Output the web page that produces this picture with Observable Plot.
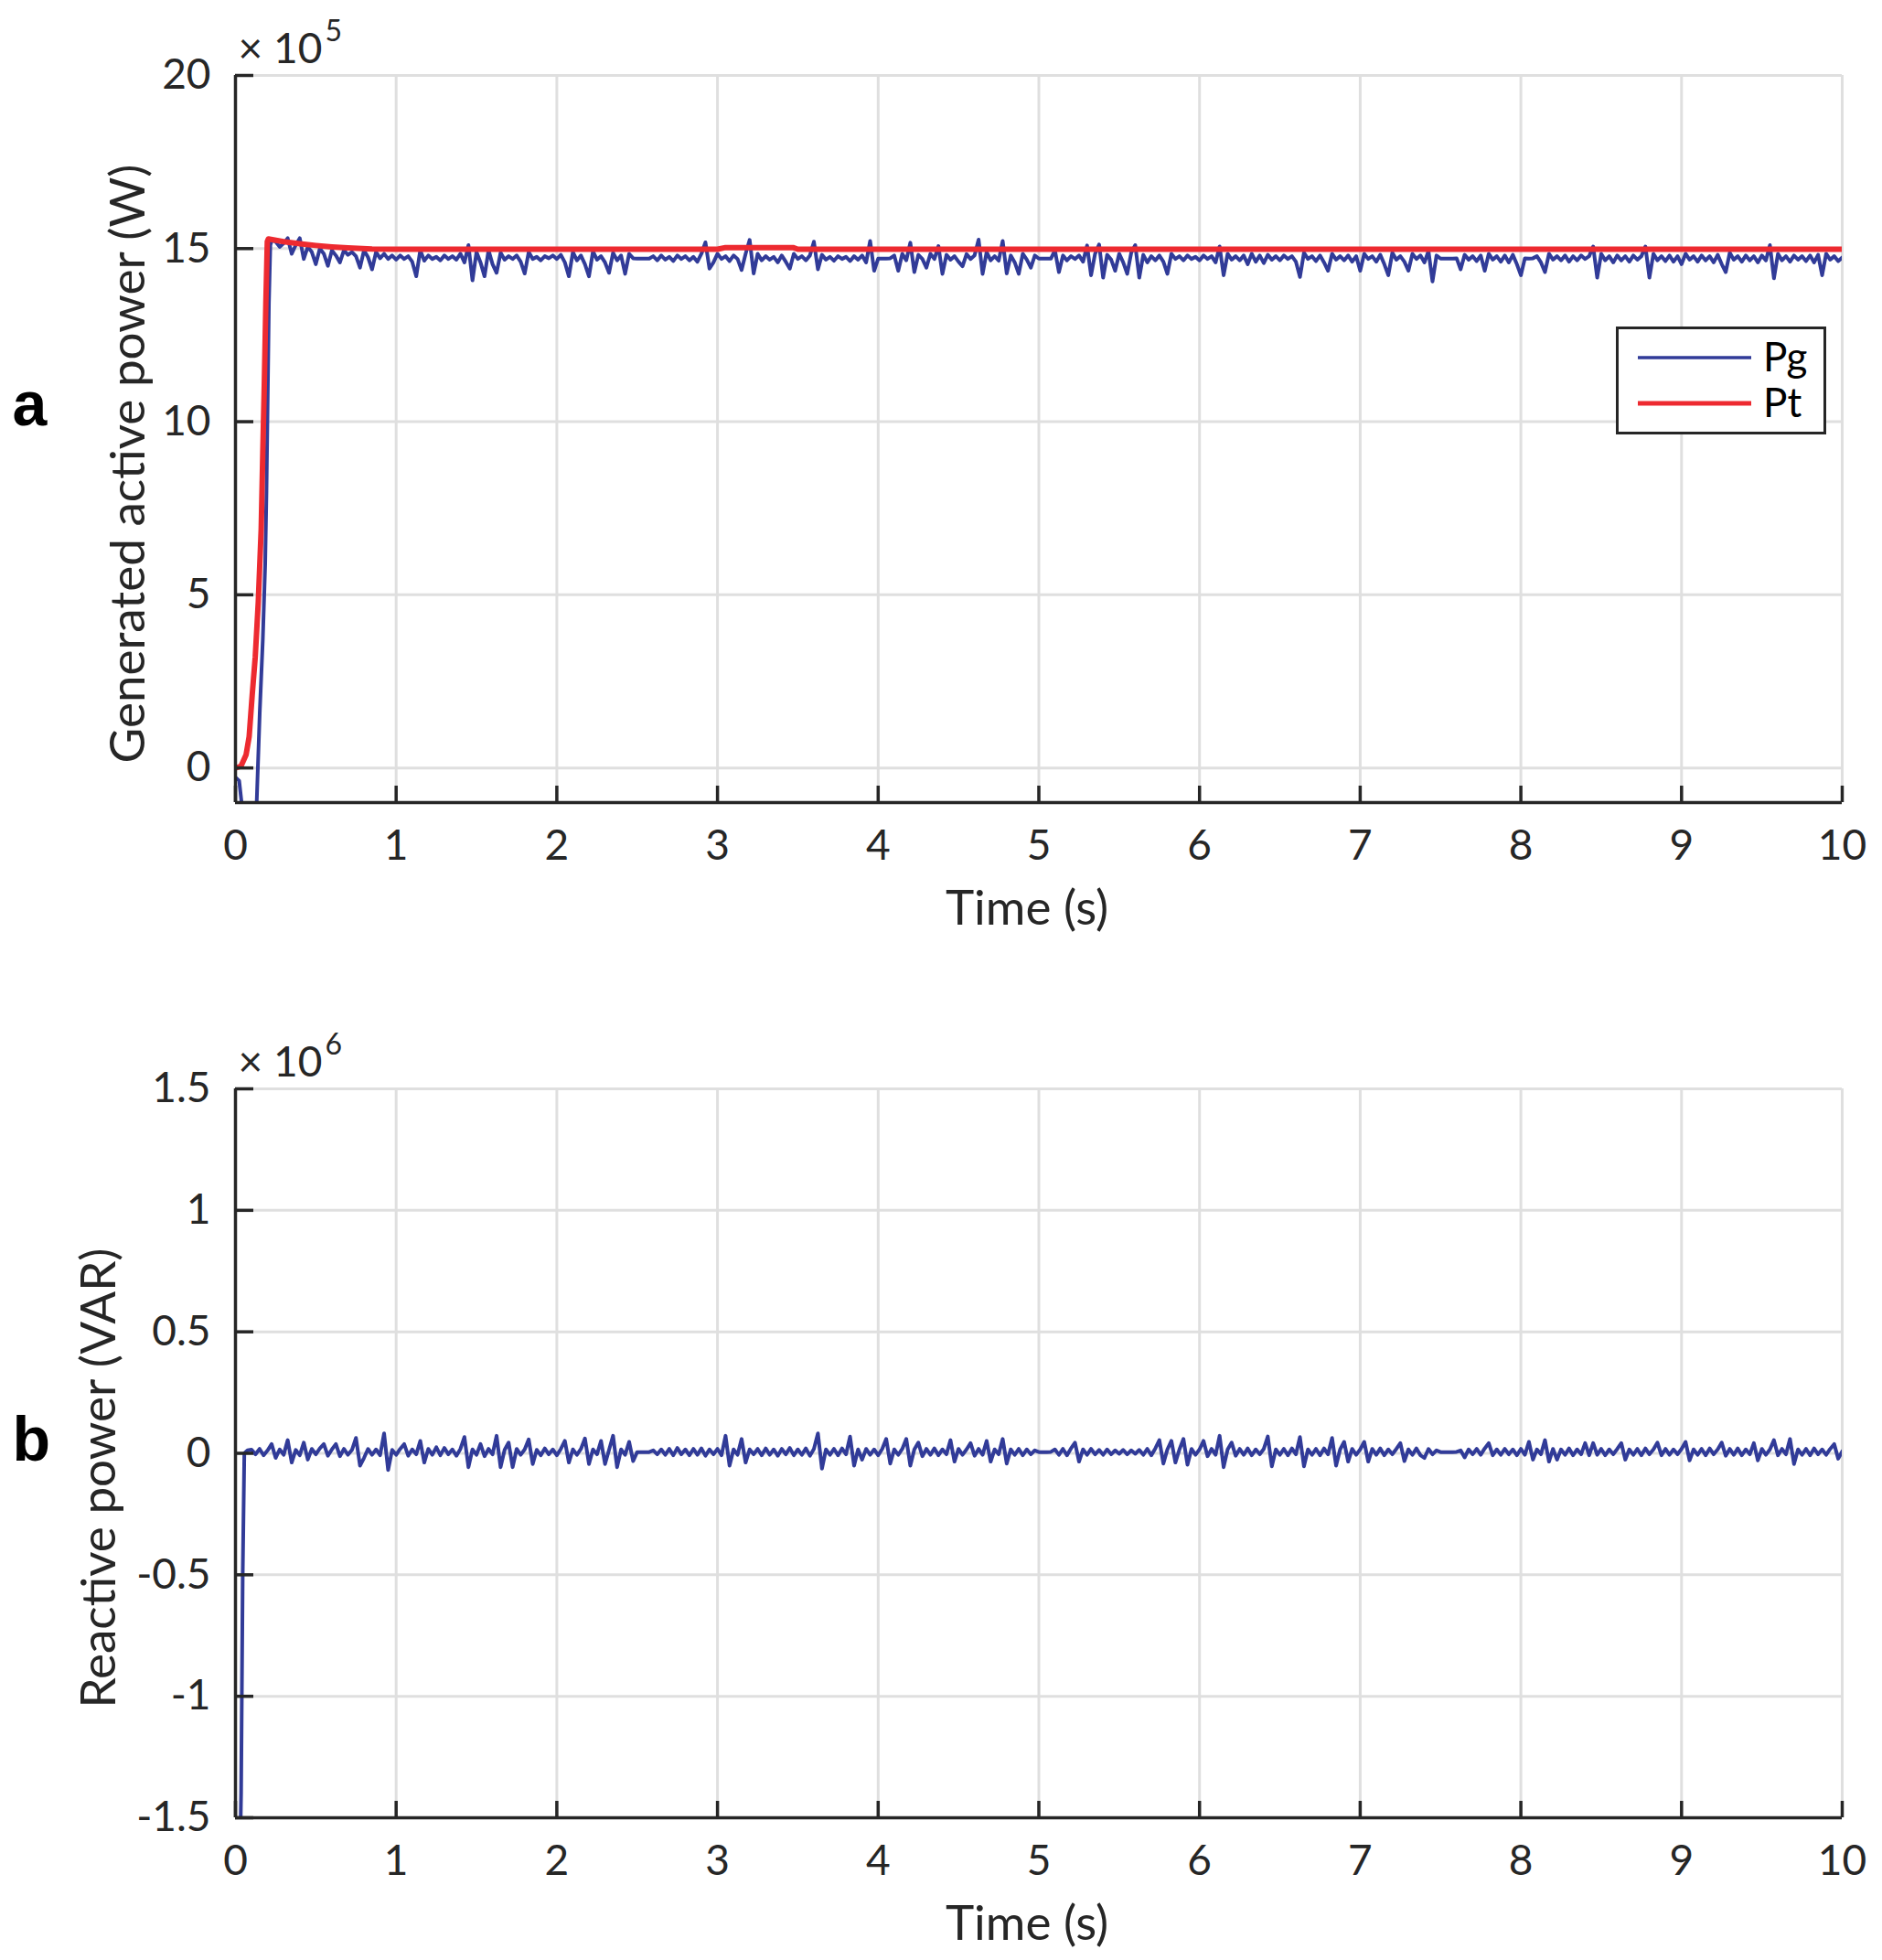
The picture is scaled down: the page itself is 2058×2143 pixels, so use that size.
<!DOCTYPE html>
<html>
<head>
<meta charset="utf-8">
<script src="https://cdn.jsdelivr.net/npm/d3@7"></script>
<script src="https://cdn.jsdelivr.net/npm/@observablehq/plot@0.6"></script>
<style>
html, body { margin: 0; padding: 0; background: #ffffff; }
#wrap { position: relative; width: 2058px; height: 2143px; background: #fff; overflow: hidden; }
.panel { position: absolute; left: 0; }
#legend { position: absolute; left: 1767px; top: 357px; width: 230px; height: 118px; box-sizing: border-box; border: 3.5px solid #262626; background: #fff; }
</style>
</head>
<body>
<div id="wrap">
  <div class="panel" id="pa" style="top:0px"></div>
  <div class="panel" id="pb" style="top:1072px"></div>
  <div id="legend"></div>
</div>
<script>
// ---------- DATA ----------
const xTicks = [0, 1, 2, 3, 4, 5, 6, 7, 8, 9, 10];
const yTicksA = [0, 5, 10, 15, 20];
const yTicksB = [-1.5, -1, -0.5, 0, 0.5, 1, 1.5];
const sampleStep = 0.025; // s, sampling interval of the steady-state records

// Panel a: Pg (x 1e5 W) start-up transient
const pgStartT = [0, 0.023, 0.038, 0.06, 0.1, 0.132, 0.151, 0.17, 0.185, 0.193, 0.202, 0.208, 0.217, 0.227];
const pgStartV = [-0.27, -0.37, -1.0, -2.0, -2.3, -1.0, 1.6, 3.7, 5.9, 8.0, 11.2, 13.4, 15.1, 15.25];
// Pg steady part, one array per second
const pgSec0 = [15.2, 15.05, 15.15, 15.3, 14.85, 15.1, 15.3, 14.7, 15.05, 14.9, 14.55, 15.0, 14.85, 14.5, 14.95, 14.8, 14.6, 14.95, 14.82, 14.9, 14.78, 14.45, 14.95, 14.75, 14.4, 14.9, 14.72, 14.85, 14.7, 14.8];
const pgSec1 = [14.68, 14.8, 14.7, 14.78, 14.62, 14.2, 14.95, 14.65, 14.8, 14.7,
  14.76, 14.66, 14.8, 14.7, 14.78, 14.68, 14.85, 14.6, 15.1, 14.08,
  14.9, 14.6, 14.2, 14.95, 14.55, 14.3, 14.88, 14.68, 14.78, 14.7,
  14.8, 14.62, 14.28, 14.9, 14.7, 14.76, 14.66, 14.78, 14.72, 14.8];
const pgSec2 = [14.7, 14.82, 14.6, 14.2, 14.9, 14.66, 14.8, 14.55, 14.2, 14.92,
  14.68, 14.78, 14.6, 14.3, 14.88, 14.66, 14.8, 14.27, 14.85, 14.72,
  14.71, 14.71, 14.71, 14.71, 14.78, 14.66, 14.8, 14.68, 14.76, 14.64,
  14.8, 14.7, 14.78, 14.66, 14.76, 14.62, 14.85, 15.18, 14.42, 14.6];
const pgSec3 = [14.85, 14.7, 14.78, 14.64, 14.8, 14.7, 14.38, 14.85, 15.25, 14.28,
  14.85, 14.66, 14.78, 14.68, 14.76, 14.6, 14.8, 14.62, 14.42, 14.85,
  14.7, 14.78, 14.66, 14.8, 15.2, 14.4, 14.82, 14.68, 14.76, 14.65,
  14.78, 14.7, 14.76, 14.64, 14.78, 14.68, 14.8, 14.6, 15.22, 14.36];
const pgSec4 = [14.71, 14.71, 14.71, 14.72, 14.8, 14.36, 14.85, 14.66, 15.17, 14.32,
  14.82, 14.7, 14.45, 14.85, 14.7, 15.07, 14.27, 14.82, 14.68, 14.78,
  14.62, 14.49, 14.84, 14.7, 14.8, 15.26, 14.27, 14.9, 14.66, 14.78,
  14.65, 15.22, 14.28, 14.8, 14.6, 14.27, 14.85, 14.68, 14.45, 14.8];
const pgSec5 = [14.71, 14.71, 14.71, 14.71, 14.95, 14.32, 14.8, 14.66, 14.78, 14.7,
  14.8, 14.62, 15.09, 14.23, 14.85, 15.12, 14.16, 14.82, 14.68, 14.36,
  14.85, 14.6, 14.27, 14.88, 15.1, 14.16, 14.82, 14.6, 14.78, 14.66,
  14.8, 14.62, 14.27, 14.85, 14.7, 14.78, 14.66, 14.8, 14.7, 14.76];
const pgSec6 = [14.66, 14.8, 14.7, 14.78, 14.6, 15.06, 14.23, 14.85, 14.68, 14.78,
  14.66, 14.8, 14.55, 14.85, 14.62, 14.8, 14.58, 14.82, 14.68, 14.78,
  14.66, 14.8, 14.7, 14.78, 14.62, 14.18, 14.88, 14.7, 14.78, 14.64,
  14.8, 14.6, 14.36, 14.85, 14.68, 14.78, 14.66, 14.8, 14.62, 14.78];
const pgSec7 = [14.36, 14.85, 14.7, 14.78, 14.62, 14.82, 14.55, 14.23, 14.88, 14.68,
  14.78, 14.62, 14.36, 14.85, 14.7, 14.8, 14.6, 14.93, 14.05, 14.8,
  14.71, 14.71, 14.71, 14.71, 14.72, 14.4, 14.82, 14.68, 14.78, 14.64,
  14.8, 14.36, 14.85, 14.68, 14.78, 14.62, 14.8, 14.6, 14.82, 14.55];
const pgSec8 = [14.23, 14.72, 14.71, 14.72, 14.78, 14.6, 14.32, 14.85, 14.68, 14.78,
  14.66, 14.8, 14.62, 14.78, 14.66, 14.8, 14.7, 14.78, 15.06, 14.16,
  14.85, 14.66, 14.78, 14.6, 14.8, 14.66, 14.78, 14.62, 14.8, 14.68,
  14.78, 15.06, 14.16, 14.85, 14.66, 14.78, 14.64, 14.8, 14.62, 14.78];
const pgSec9 = [14.55, 14.85, 14.68, 14.78, 14.62, 14.8, 14.66, 14.78, 14.6, 14.82,
  14.55, 14.32, 14.88, 14.68, 14.78, 14.62, 14.8, 14.66, 14.78, 14.6,
  14.8, 14.66, 15.1, 14.14, 14.85, 14.66, 14.78, 14.62, 14.8, 14.68,
  14.78, 14.64, 14.8, 14.6, 14.82, 14.23, 14.85, 14.68, 14.78, 14.64, 14.74];

// Panel a: Pt (x 1e5 W)
const ptT = [0, 0.034, 0.066, 0.085, 0.104, 0.123, 0.142, 0.16, 0.17, 0.18, 0.189, 0.198, 0.205, 0.3, 0.4, 0.5, 0.6, 0.7, 0.85, 1.0, 3.0, 3.05, 3.47, 3.5, 10];
const ptV = [0, 0.05, 0.38, 0.9, 2.1, 3.2, 4.8, 6.9, 9.1, 11.2, 13.4, 15.2, 15.28, 15.2, 15.14, 15.09, 15.05, 15.02, 14.99, 14.98, 14.98, 15.03, 15.03, 14.98, 14.98];

// Panel b: Q (x 1e6 VAR)
const qStartT = [0, 0.02, 0.035, 0.045, 0.055, 0.075];
const qStartV = [-2.5, -2.0, -1.4, -0.5, 0.0, 0.012];
const qSec0 = [0.015, -0.004, 0.018, -0.008, 0.012, 0.038, -0.019, 0.016, -0.006, 0.054,
  -0.038, 0.014, -0.008, 0.044, -0.026, 0.018, -0.004, 0.02, 0.038, -0.01,
  0.016, 0.038, -0.012, 0.018, -0.006, 0.014, 0.063, -0.051, -0.019, 0.018,
  -0.006, 0.016, -0.008, 0.082, -0.069, 0.014];
const qSec1 = [-0.006, 0.018, 0.038, -0.01, 0.016, -0.004, 0.051, -0.038, 0.018, -0.006,
  0.025, -0.008, 0.022, -0.004, 0.016, -0.01, 0.018, 0.067, -0.057, 0.016,
  -0.006, 0.038, -0.012, 0.018, -0.004, 0.072, -0.057, 0.014, 0.044, -0.057,
  0.018, -0.006, 0.016, 0.057, -0.044, 0.014, -0.008, 0.02, -0.004, 0.016];
const qSec2 = [-0.008, 0.018, 0.051, -0.038, 0.016, -0.006, 0.018, 0.061, -0.044, 0.016,
  -0.004, 0.051, -0.044, 0.014, 0.072, -0.057, 0.016, -0.006, 0.047, -0.032,
  0.005, 0.005, 0.005, 0.005, 0.012, -0.004, 0.016, -0.006, 0.018, -0.008,
  0.022, -0.004, 0.016, -0.008, 0.018, -0.006, 0.02, -0.01, 0.016, -0.004];
const qSec3 = [0.018, -0.008, 0.072, -0.051, 0.016, -0.006, 0.059, -0.038, 0.016, -0.004,
  0.018, -0.008, 0.02, -0.006, 0.016, -0.01, 0.018, -0.004, 0.022, -0.008,
  0.016, -0.006, 0.02, -0.01, 0.018, 0.082, -0.063, 0.016, -0.006, 0.018,
  -0.008, 0.02, -0.004, 0.069, -0.051, 0.016, -0.026, 0.018, -0.006, 0.016];
const qSec4 = [-0.008, 0.018, 0.059, -0.042, 0.016, -0.006, 0.018, 0.059, -0.051, 0.016,
  0.044, -0.012, 0.018, -0.006, 0.02, -0.008, 0.016, -0.004, 0.054, -0.034,
  0.018, -0.006, 0.016, 0.042, -0.01, 0.018, -0.006, 0.051, -0.034, 0.016,
  -0.004, 0.059, -0.042, 0.016, -0.006, 0.018, -0.008, 0.016, -0.004, 0.012];
const qSec5 = [0.005, 0.005, 0.005, 0.006, 0.016, -0.006, 0.018, -0.008, 0.02, 0.044,
  -0.034, 0.016, -0.006, 0.018, -0.004, 0.014, -0.006, 0.016, -0.004, 0.012,
  -0.002, 0.014, -0.004, 0.012, -0.002, 0.014, -0.006, 0.018, -0.008, 0.02,
  0.054, -0.042, 0.016, 0.051, -0.038, 0.016, 0.059, -0.047, 0.018, -0.006];
const qSec6 = [0.016, 0.051, -0.012, 0.018, -0.006, 0.072, -0.057, 0.016, 0.044, -0.01,
  0.018, -0.006, 0.02, -0.008, 0.016, -0.004, 0.018, 0.069, -0.054, 0.016,
  -0.006, 0.018, -0.008, 0.02, -0.004, 0.067, -0.054, 0.016, -0.006, 0.018,
  -0.008, 0.02, -0.004, 0.063, -0.051, 0.016, 0.047, -0.034, 0.018, -0.006];
const qSec7 = [0.016, 0.047, -0.034, 0.018, -0.006, 0.02, -0.008, 0.016, -0.004, 0.018,
  0.042, -0.032, 0.016, -0.006, 0.02, -0.008, -0.019, 0.018, -0.004, 0.012,
  0.005, 0.005, 0.005, 0.005, 0.006, 0.012, -0.017, 0.016, -0.004, 0.018,
  -0.006, 0.02, 0.042, -0.008, 0.016, -0.006, 0.018, -0.004, 0.016, -0.008];
const qSec8 = [0.018, -0.006, 0.047, -0.026, 0.016, -0.004, 0.054, -0.034, 0.018, -0.026,
  0.016, -0.006, 0.02, -0.008, 0.016, -0.004, 0.042, -0.008, 0.042, -0.006,
  0.018, -0.008, 0.016, -0.004, 0.018, 0.042, -0.026, 0.016, -0.006, 0.018,
  -0.008, 0.02, -0.004, 0.016, 0.044, -0.008, 0.018, -0.006, 0.016, -0.004];
const qSec9 = [0.018, 0.047, -0.029, 0.016, -0.006, 0.018, -0.008, 0.02, -0.004, 0.016,
  0.044, -0.01, 0.018, -0.006, 0.02, -0.008, 0.016, -0.004, 0.042, -0.029,
  0.018, -0.006, 0.016, 0.054, -0.008, 0.018, -0.004, 0.059, -0.044, 0.016,
  -0.006, 0.018, -0.008, 0.02, -0.004, 0.016, -0.006, 0.018, 0.038, -0.022, 0.008];

// ---------- BUILD TABLES ----------
function buildSeries(startT, startV, chunks) {
  const out = startT.map((t, i) => ({ t, v: startV[i] }));
  for (const [t0, vals] of chunks) {
    vals.forEach((v, i) => out.push({ t: +(t0 + i * sampleStep).toFixed(3), v }));
  }
  return out;
}
const pg = buildSeries(pgStartT, pgStartV, [[0.25, pgSec0], [1, pgSec1], [2, pgSec2], [3, pgSec3], [4, pgSec4], [5, pgSec5], [6, pgSec6], [7, pgSec7], [8, pgSec8], [9, pgSec9]]);
const pt = ptT.map((t, i) => ({ t, v: ptV[i] }));
const q = buildSeries(qStartT, qStartV, [[0.1, qSec0], [1, qSec1], [2, qSec2], [3, qSec3], [4, qSec4], [5, qSec5], [6, qSec6], [7, qSec7], [8, qSec8], [9, qSec9]]);

// ---------- STYLE ----------
const axisColor = "#262626";
const gridColor = "#dfdfdf";
const blue = "#313b98";
const red = "#ed2a30";
const W = 2058, ML = 257, MR = 44;
const innerW = W - ML - MR;

function panel({ height, mt, mb, yDomain, yTicks, series, ylabel, ylabelDx, exp, letter, letterDy }) {
  const innerH = height - mt - mb;
  const marks = [
    Plot.gridX(xTicks, { stroke: gridColor, strokeOpacity: 1, strokeWidth: 3 }),
    Plot.gridY(yTicks, { stroke: gridColor, strokeOpacity: 1, strokeWidth: 3 }),
    ...series.map(s => Plot.line(s.data, { x: "t", y: "v", stroke: s.color, strokeWidth: s.width, clip: true })),
    Plot.tickX(xTicks, { x: d => d, insetTop: innerH - 18, stroke: axisColor, strokeWidth: 3.5 }),
    Plot.tickY(yTicks, { y: d => d, insetRight: innerW - 20, stroke: axisColor, strokeWidth: 3.5 }),
    Plot.ruleX([xTicks[0]], { stroke: axisColor, strokeWidth: 3.5 }),
    Plot.ruleY([yDomain[0]], { stroke: axisColor, strokeWidth: 3.5 }),
    Plot.axisX(xTicks, { tickSize: 0, tickPadding: 30, label: null, tickFormat: d => String(d), fontSize: 46 }),
    Plot.axisY(yTicks, { tickSize: 0, tickPadding: 27, label: null, tickFormat: d => String(d), fontSize: 46 }),
    Plot.text(["Time (s)"], { text: d => d, frameAnchor: "bottom", lineAnchor: "bottom", dx: -13, dy: 133, fontSize: 53 }),
    Plot.text([ylabel], { text: d => d, frameAnchor: "left", textAnchor: "middle", rotate: -90, dx: ylabelDx, dy: 27, fontSize: 53 }),
    Plot.text(["\u00d7 10"], { text: d => d, frameAnchor: "top-left", textAnchor: "start", lineAnchor: "bottom", dx: 3, dy: -14, fontSize: 46 }),
    Plot.text([exp], { text: d => d, frameAnchor: "top-left", textAnchor: "start", lineAnchor: "bottom", dx: 98, dy: -38, fontSize: 32 }),
    Plot.text([letter], { text: d => d, frameAnchor: "left", textAnchor: "start", lineAnchor: "bottom", dx: 13 - ML, dy: letterDy, fontSize: 68, fontWeight: "bold", fontFamily: "Liberation Sans", fill: "#000" })
  ];
  return Plot.plot({
    width: W, height,
    marginTop: mt, marginBottom: mb, marginLeft: ML, marginRight: MR,
    style: { fontFamily: "Lato", fontSize: "46px", color: axisColor, background: "transparent", overflow: "visible" },
    x: { domain: [0, 10] },
    y: { domain: yDomain },
    marks
  });
}

document.getElementById("pa").appendChild(panel({
  height: 1072, mt: 82, mb: 195, yDomain: [-1, 20], yTicks: yTicksA,
  series: [{ data: pg, color: blue, width: 4 }, { data: pt, color: red, width: 6 }],
  ylabel: "Generated active power (W)", ylabelDx: -116, exp: "5", letter: "a", letterDy: -15
}));
document.getElementById("pb").appendChild(panel({
  height: 1071, mt: 118, mb: 156, yDomain: [-1.5, 1.5], yTicks: yTicksB,
  series: [{ data: q, color: blue, width: 4 }],
  ylabel: "Reactive power (VAR)", ylabelDx: -148, exp: "6", letter: "b", letterDy: 8
}));

// ---------- LEGEND ----------
const legendItems = [{ name: "Pg", color: blue, width: 3.5 }, { name: "Pt", color: red, width: 5 }];
const lg = d3.select("#legend").append("svg").attr("width", 223).attr("height", 111)
  .style("position", "absolute").style("left", "0px").style("top", "0px");
legendItems.forEach((d, i) => {
  const y = 31 + i * 50;
  lg.append("line").attr("x1", 21).attr("x2", 145).attr("y1", y).attr("y2", y)
    .attr("stroke", d.color).attr("stroke-width", d.width);
  lg.append("text").attr("x", 158).attr("y", y).attr("dy", "0.35em")
    .attr("font-family", "Lato").attr("font-size", 44).attr("fill", "#000").text(d.name);
});
</script>
</body>
</html>
